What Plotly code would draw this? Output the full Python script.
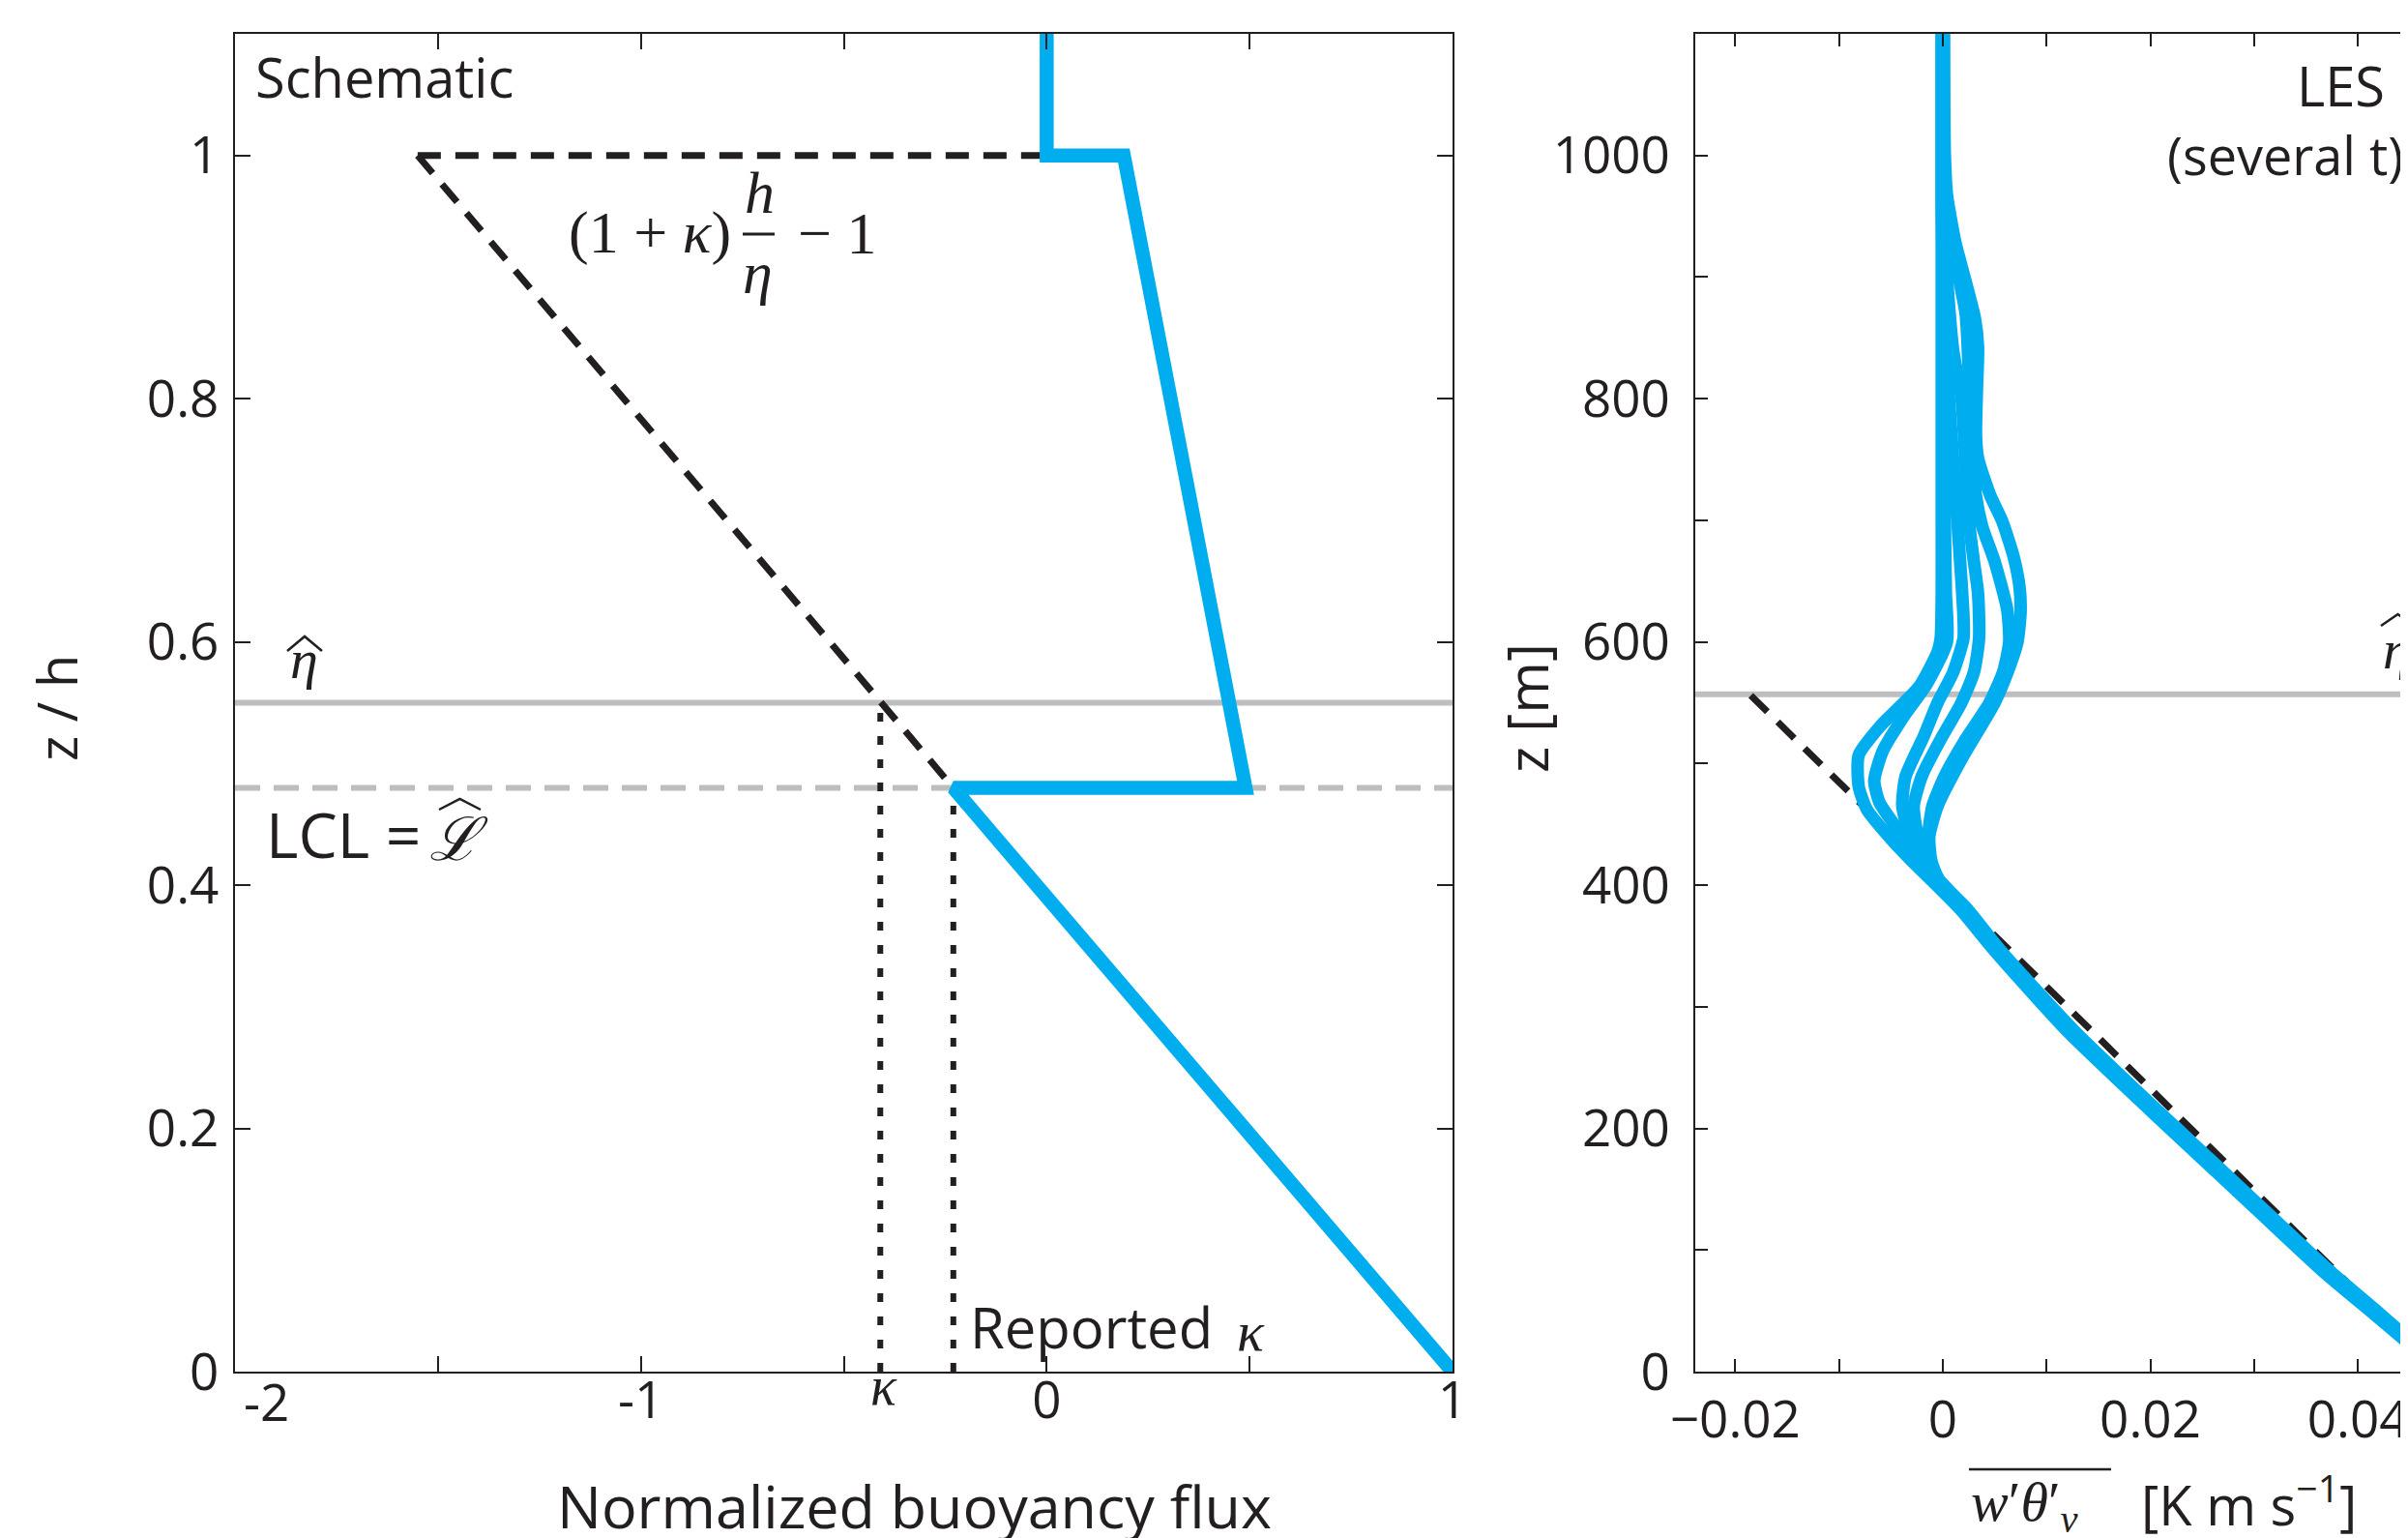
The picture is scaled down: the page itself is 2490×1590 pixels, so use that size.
import plotly.graph_objects as go

# ---------------- data ----------------
# Left panel: schematic (normalized buoyancy flux vs z/h)
schem_flux = [0.0, 0.0, 0.19, 0.49, -0.23, 1.0]
schem_z = [1.1, 1.0, 1.0, 0.48, 0.48, 0.0]
dash_top_flux = [-1.55, 0.0]
dash_top_z = [1.0, 1.0]
dash_diag_flux = [-1.55, -0.23]
dash_diag_z = [1.0, 0.48]
eta_hat_z = 0.55
lcl_z = 0.48
kappa = -0.41
kappa_reported = -0.23
left_xlim = [-2.0, 1.0]
left_ylim = [0.0, 1.1]
left_tickvals = [-2, -1.5, -1, -0.5, 0, 0.5, 1]
left_ticktext = ["", "", "-1", "", "0", "", "1"]
left_ytickvals = [0, 0.2, 0.4, 0.6, 0.8, 1.0]
left_yticktext = ["0", "0.2", "0.4", "0.6", "0.8", "1"]

# Right panel: LES profiles (several times)
les_a_z = [1100, 1000, 900, 800, 700, 640, 603, 592, 563, 531, 507, 481, 462, 438, 420, 405, 380, 346, 280, 214, 148, 82, 47, 26, 0]
les_a_x = [-0.0001, -0.0001, -0.0001, -0.0001, -0.0001, -0.0001, -0.0002, -0.0005, -0.0023, -0.0060, -0.0081, -0.0081, -0.0073,
           -0.0050, -0.0030, -0.0012, 0.0017, 0.0050, 0.0120, 0.0201, 0.0284, 0.0367, 0.0416, 0.0445, 0.0479]
les_b_z = [1100, 1000, 900, 800, 700, 640, 600, 566, 537, 510, 486, 468, 449, 425, 405, 380, 346, 280, 214, 148, 82, 47, 26, 0]
les_b_x = [0.0001, 0.0001, 0.0001, 0.0002, 0.0002, 0.0003, 0.0004, -0.0015, -0.0039, -0.0058, -0.0066, -0.0061, -0.0046,
           -0.0025, -0.0010, 0.0018, 0.0051, 0.0121, 0.0202, 0.0285, 0.0368, 0.0417, 0.0446, 0.0480]
les_c_z = [1100, 960, 850, 800, 750, 700, 650, 620, 603, 575, 550, 523, 489, 465, 444, 420, 405, 380, 346, 280, 214, 148, 82, 47, 26, 0]
les_c_x = [-0.0001, -0.0001, 0.0002, 0.0006, 0.0010, 0.0014, 0.0018, 0.0020, 0.0020, 0.0010, -0.0005, -0.0018, -0.0036,
           -0.0039, -0.0033, -0.0020, -0.0008, 0.0020, 0.0052, 0.0123, 0.0204, 0.0287, 0.0370, 0.0419, 0.0447, 0.0481]
les_d_z = [1100, 960, 900, 840, 800, 746, 693, 666, 640, 603, 575, 550, 520, 490, 465, 440, 420, 405, 380, 346, 280, 214, 148, 82, 47, 26, 0]
les_d_x = [0.0000, 0.0000, 0.0004, 0.0010, 0.0018, 0.0022, 0.0026, 0.0030, 0.0034, 0.0035, 0.0030, 0.0018, -0.0002,
           -0.0020, -0.0028, -0.0024, -0.0016, -0.0006, 0.0021, 0.0053, 0.0124, 0.0205, 0.0288, 0.0371, 0.0420, 0.0448, 0.0482]
les_e_z = [1100, 970, 930, 870, 800, 750, 720, 695, 666, 627, 600, 575, 550, 520, 490, 465, 440, 420, 405, 380, 346, 280, 214, 148, 82, 47, 26, 0]
les_e_x = [0.0000, 0.0002, 0.0008, 0.0022, 0.0026, 0.0029, 0.0032, 0.0038, 0.0050, 0.0062, 0.0064, 0.0058, 0.0045, 0.0022,
           0.0002, -0.0010, -0.0014, -0.0012, -0.0004, 0.0023, 0.0055, 0.0126, 0.0207, 0.0290, 0.0373, 0.0421, 0.0449, 0.0483]
les_f_z = [1100, 1000, 968, 929, 903, 866, 842, 810, 770, 751, 720, 700, 671, 645, 625, 600, 574, 550, 505, 465, 440, 420,
           405, 380, 346, 280, 214, 148, 82, 47, 26, 0]
les_f_x = [0.0001, 0.0002, 0.0004, 0.0012, 0.0020, 0.0031, 0.0034, 0.0033, 0.0032, 0.0034, 0.0046, 0.0057, 0.0068, 0.0074,
           0.0075, 0.0072, 0.0062, 0.0050, 0.0019, -0.0005, -0.0013, -0.0011, -0.0004, 0.0024, 0.0056, 0.0127, 0.0208,
           0.0291, 0.0374, 0.0422, 0.0450, 0.0484]
les_dash_x = [-0.0185, 0.0477]
les_dash_z = [556, 0]
les_eta_z = 557
right_xlim = [-0.0239, 0.04558]
right_ylim = [0, 1100]
right_xtickvals = [-0.02, -0.01, 0, 0.01, 0.02, 0.03, 0.04]
right_xticktext = ["\u22120.02", "", "0", "", "0.02", "", "0.04"]
right_ytickvals = [0, 100, 200, 300, 400, 500, 600, 700, 800, 900, 1000, 1100]
right_yticktext = ["0", "", "200", "", "400", "", "600", "", "800", "", "1000", ""]

# ---------------- style ----------------
W, H = 2490, 1590
OFF = 8  # page body margin of the exported html
BLUE = "#00AEEF"
GRAY = "#BCBEC0"
INK = "#231F20"
SANS = "Open Sans, Lato, DejaVu Sans, sans-serif"
SERIF = "Liberation Serif, DejaVu Serif, serif"


def px(x):
    return (x - OFF) / W


def py(y):
    return 1 - (y - OFF) / H


fig = go.Figure()

# ---- left panel ----
fig.add_trace(go.Scatter(x=left_xlim, y=[eta_hat_z, eta_hat_z], mode="lines",
                         line=dict(color=GRAY, width=6), xaxis="x", yaxis="y"))
fig.add_trace(go.Scatter(x=left_xlim, y=[lcl_z, lcl_z], mode="lines",
                         line=dict(color=GRAY, width=6, dash="26px,14px"), xaxis="x", yaxis="y"))
fig.add_trace(go.Scatter(x=dash_top_flux, y=dash_top_z, mode="lines",
                         line=dict(color=INK, width=7, dash="24px,15px"), xaxis="x", yaxis="y"))
fig.add_trace(go.Scatter(x=dash_diag_flux, y=dash_diag_z, mode="lines",
                         line=dict(color=INK, width=7, dash="24px,15px"), xaxis="x", yaxis="y"))
fig.add_trace(go.Scatter(x=[kappa, kappa], y=[0, eta_hat_z], mode="lines",
                         line=dict(color=INK, width=6, dash="9px,15px"), xaxis="x", yaxis="y"))
fig.add_trace(go.Scatter(x=[kappa_reported, kappa_reported], y=[0, lcl_z], mode="lines",
                         line=dict(color=INK, width=6, dash="9px,15px"), xaxis="x", yaxis="y"))
fig.add_trace(go.Scatter(x=schem_flux, y=schem_z, mode="lines",
                         line=dict(color=BLUE, width=14.5), xaxis="x", yaxis="y"))

# ---- right panel ----
fig.add_trace(go.Scatter(x=right_xlim, y=[les_eta_z, les_eta_z], mode="lines",
                         line=dict(color=GRAY, width=6), xaxis="x2", yaxis="y2"))
fig.add_trace(go.Scatter(x=les_dash_x, y=les_dash_z, mode="lines",
                         line=dict(color=INK, width=7, dash="24px,15px"), xaxis="x2", yaxis="y2"))
for xs, zs in [(les_a_x, les_a_z), (les_b_x, les_b_z), (les_c_x, les_c_z),
               (les_d_x, les_d_z), (les_e_x, les_e_z), (les_f_x, les_f_z)]:
    fig.add_trace(go.Scatter(x=xs, y=zs, mode="lines",
                             line=dict(color=BLUE, width=13, shape="spline", smoothing=0.6),
                             xaxis="x2", yaxis="y2"))

axis_common = dict(showgrid=False, zeroline=False, showline=True, linecolor=INK, linewidth=2,
                   ticks="inside", tickcolor=INK, tickwidth=2, automargin=False,
                   tickfont=dict(family=SANS, size=53, color=INK))

ydom = [py(1418), py(35)]
fig.update_layout(
    width=W, height=H, margin=dict(l=0, r=0, t=0, b=0, autoexpand=False),
    paper_bgcolor="white", plot_bgcolor="white", showlegend=False,
    xaxis=dict(domain=[px(243), px(1502)], range=left_xlim, anchor="y", mirror="ticks", ticklen=16,
               tickmode="array", tickvals=left_tickvals, ticktext=left_ticktext, ticklabelstandoff=-18,
               **axis_common),
    yaxis=dict(domain=ydom, range=left_ylim, anchor="x", mirror="ticks", ticklen=16,
               tickmode="array", tickvals=left_ytickvals, ticktext=left_yticktext, ticklabelstandoff=4,
               **axis_common),
    xaxis2=dict(domain=[px(1752.5), 1.0], range=right_xlim, anchor="y2", mirror="ticks", ticklen=13,
                tickmode="array", tickvals=right_xtickvals, ticktext=right_xticktext, ticklabelstandoff=2,
                **axis_common),
    yaxis2=dict(domain=ydom, range=right_ylim, anchor="x2", mirror=False, ticklen=13,
                tickmode="array", tickvals=right_ytickvals, ticktext=right_yticktext, ticklabelstandoff=13,
                **axis_common),
)


def ann(text, x, y, size, family=SANS, xanchor="center", yanchor="middle", angle=0):
    fig.add_annotation(text=text, x=px(x), y=py(y), xref="paper", yref="paper",
                       xanchor=xanchor, yanchor=yanchor, showarrow=False, textangle=angle,
                       font=dict(family=family, size=size, color=INK))


def hat(x1, x2, ybot, ytop, width=2.5):
    xm = (x1 + x2) / 2
    fig.add_shape(type="path", xref="paper", yref="paper",
                  path=f"M {px(x1)},{py(ybot)} L {px(xm)},{py(ytop)} L {px(x2)},{py(ybot)}",
                  line=dict(color=INK, width=width))


def hline(x1, x2, y, width=3):
    fig.add_shape(type="line", xref="paper", yref="paper", x0=px(x1), x1=px(x2), y0=py(y), y1=py(y),
                  line=dict(color=INK, width=width))


# left panel texts
ann("Schematic", 262, 79, 56, xanchor="left")
ann("(1 + <i>κ</i>)", 758, 241, 62, family=SERIF, xanchor="right")
ann("<i>h</i>", 785, 199, 62, family=SERIF)
hline(768, 801, 242, 3)
ann("<i>η</i>", 783, 282, 62, family=SERIF)
ann("− 1", 823, 241, 62, family=SERIF, xanchor="left")
ann("<i>η</i>", 314, 681, 58, family=SERIF)
hat(297, 333, 673, 658)
ann("LCL =", 273, 862, 64, xanchor="left")
ann("<i>ℒ</i>", 474, 867, 62, family="DejaVu Serif, serif")
hat(454, 497, 837, 826)
ann("Reported", 1001, 1371, 58, xanchor="left")
ann("<i>κ</i>", 1277, 1376, 58, family=SERIF, xanchor="left")
ann("-2", 275, 1448, 53)
ann("<i>κ</i>", 914, 1433, 56, family=SERIF)
ann("z / h", 58, 732, 56, angle=-90)
ann("Normalized buoyancy flux", 945, 1556, 61)

# right panel texts
ann("LES", 2468, 88, 56, xanchor="right")
ann("(several t)", 2239, 160, 54, xanchor="left")
ann("<i>η</i>", 2478, 671, 58, family=SERIF)
hat(2462, 2497, 647, 635)
ann("z [m]", 1578, 732, 58, angle=-90)
ann("<i>w</i>′<i>θ</i>′<sub><i>v</i></sub>", 2036, 1556, 58, family=SERIF, xanchor="left")
hline(2036, 2183, 1519, 2.5)
ann("[K m s<sup>−1</sup>]", 2212, 1552, 56, xanchor="left")

fig.write_html("out.html")
